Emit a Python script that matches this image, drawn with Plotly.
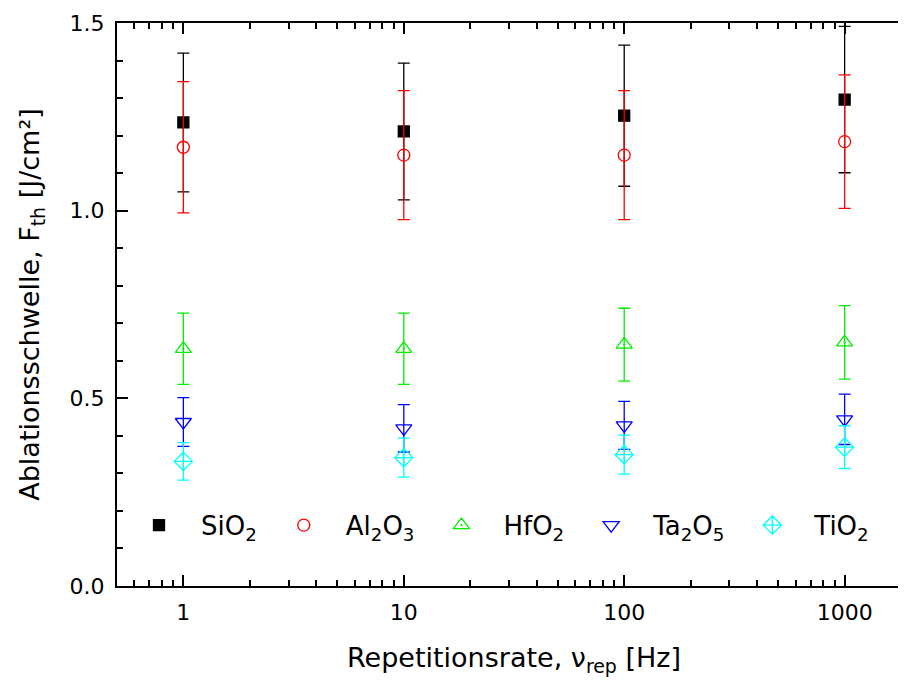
import math
import plotly.graph_objects as go

rate = [1, 10, 100, 1000]

sio2 = [1.235, 1.211, 1.253, 1.296]
sio2_err = [0.185, 0.182, 0.188, 0.195]
al2o3 = [1.169, 1.148, 1.148, 1.184]
al2o3_err = [0.175, 0.172, 0.172, 0.178]
hfo2 = [0.632, 0.632, 0.643, 0.649]
hfo2_err = [0.095, 0.095, 0.097, 0.098]
ta2o5 = [0.437, 0.420, 0.428, 0.444]
ta2o5_err = [0.065, 0.063, 0.064, 0.067]
tio2 = [0.332, 0.342, 0.350, 0.370]
tio2_err = [0.050, 0.052, 0.052, 0.057]

x_tickvals = [1, 10, 100, 1000]
x_ticktext = ["1", "10", "100", "1000"]
x_minor = [m * d for d in [0.1, 1, 10, 100, 1000] for m in range(2, 10)]

series = [
    ("SiO<sub>2</sub>", sio2, sio2_err, "#000000", "square", 11),
    ("Al<sub>2</sub>O<sub>3</sub>", al2o3, al2o3_err, "#ff0000", "circle-open", 12),
    ("HfO<sub>2</sub>", hfo2, hfo2_err, "#00f000", "triangle-up-open-dot", 14),
    ("Ta<sub>2</sub>O<sub>5</sub>", ta2o5, ta2o5_err, "#0000ff", "triangle-down-open", 14),
    ("TiO<sub>2</sub>", tio2, tio2_err, "#00ffff", "diamond-cross-open", 14),
]

fig = go.Figure()
for name, vals, errs, col, sym, sz in series:
    fig.add_trace(go.Scatter(
        x=rate, y=vals, name=name, mode="markers",
        marker=dict(symbol=sym, size=sz, color=col, line=dict(color=col, width=1.3)),
        error_y=dict(type="data", array=errs, visible=True, color=col, thickness=1.3, width=6),
    ))

font = "DejaVu Sans, Verdana, sans-serif"
fig.update_layout(
    width=906, height=676,
    margin=dict(l=109, r=1, t=15, b=98),
    paper_bgcolor="white", plot_bgcolor="white",
    font=dict(family=font, size=22, color="black"),
    showlegend=True,
    legend=dict(orientation="h", x=0.0, xanchor="left", y=0.108, yanchor="middle",
                font=dict(size=26), bgcolor="rgba(0,0,0,0)", itemwidth=74),
    xaxis=dict(
        type="log", range=[math.log10(0.5), math.log10(2000)],
        tickmode="array", tickvals=x_tickvals, ticktext=x_ticktext,
        ticks="inside", ticklen=11, tickwidth=2, tickcolor="black",
        showline=True, linewidth=2, linecolor="black", mirror="allticks",
        showgrid=False, zeroline=False, ticklabelstandoff=6,
        minor=dict(tickmode="array", tickvals=x_minor, ticks="inside", ticklen=6,
                   tickwidth=1.5, tickcolor="black", showgrid=False),
        title=dict(text="Repetitionsrate, \u03bd<sub>rep</sub> [Hz]", font=dict(size=27), standoff=24),
        tickfont=dict(size=22),
    ),
    yaxis=dict(
        range=[0, 1.5], tickmode="linear", tick0=0, dtick=0.5, tickformat=".1f",
        ticks="inside", ticklen=11, tickwidth=2, tickcolor="black",
        showline=True, linewidth=2, linecolor="black", mirror="allticks",
        showgrid=False, zeroline=False, ticklabelstandoff=6,
        minor=dict(dtick=0.1, ticks="inside", ticklen=6, tickwidth=1.5,
                   tickcolor="black", showgrid=False),
        title=dict(text="Ablationsschwelle, F<sub>th</sub> [J/cm\u00b2]", font=dict(size=27), standoff=22),
        tickfont=dict(size=22),
    ),
)

fig.write_html("out.html")
